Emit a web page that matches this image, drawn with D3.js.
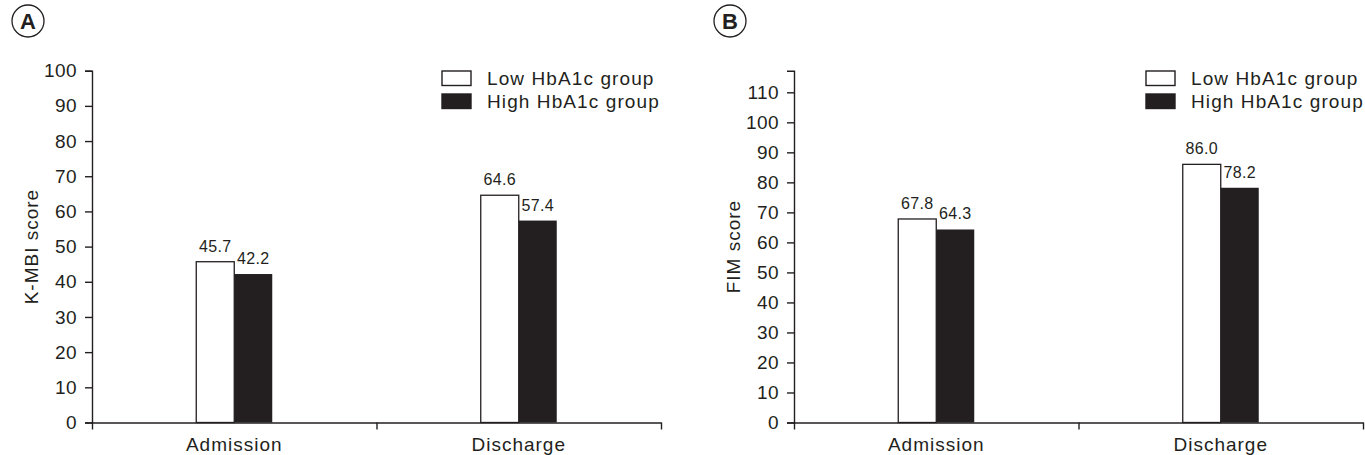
<!DOCTYPE html>
<html>
<head>
<meta charset="utf-8">
<script src="https://cdn.jsdelivr.net/npm/d3@7"></script>
<style>
  body { margin: 0; background: #fff; }
  svg text { font-family: "Liberation Sans", Arial, Helvetica, sans-serif; fill: #231f20; }
</style>
</head>
<body>
<div id="chart"></div>
<script>
const categories = ["Admission", "Discharge"];
const groups = ["Low HbA1c group", "High HbA1c group"];

// panel A: K-MBI
const kmbiLow = [45.7, 64.6];
const kmbiHigh = [42.2, 57.4];
const kmbiTicks = [0, 10, 20, 30, 40, 50, 60, 70, 80, 90, 100];

// panel B: FIM
const fimLow = [67.8, 86.0];
const fimHigh = [64.3, 78.2];
const fimTicks = [0, 10, 20, 30, 40, 50, 60, 70, 80, 90, 100, 110];

const ink = "#231f20";
const barW = 38;

const svg = d3.select("#chart")
  .append("svg")
  .attr("width", 1365)
  .attr("height", 455);

function panel(opt) {
  const g = svg.append("g");

  const y = d3.scaleLinear().domain([0, opt.yMax]).range([422.5, 70.7]);
  const x = d3.scaleBand().domain(categories).range([opt.x0, opt.x1]);
  const xEdge = d3.scaleLinear().domain([0, categories.length]).range([opt.x0, opt.x1]);

  // y axis
  const ya = g.append("g")
    .attr("transform", "translate(" + opt.x0 + ",0)")
    .call(d3.axisLeft(y).tickValues(opt.ticks).tickSize(7).tickSizeOuter(7).tickPadding(8));
  ya.selectAll("path, line").attr("stroke", ink).attr("stroke-width", 1.4);
  ya.selectAll("text")
    .attr("font-size", 19)
    .attr("letter-spacing", "0.4px")
    .attr("fill", ink)
    .style("font-family", "'Liberation Sans', Arial, sans-serif");

  // bars
  const rows = categories.map((c, i) => ({ cat: c, low: opt.low[i], high: opt.high[i] }));

  g.selectAll(".low")
    .data(rows)
    .enter().append("rect")
    .attr("class", "low")
    .attr("x", d => x(d.cat) + x.bandwidth() / 2 - barW)
    .attr("y", d => y(d.low))
    .attr("width", barW)
    .attr("height", d => y(0) - y(d.low))
    .attr("fill", "#fff")
    .attr("stroke", ink)
    .attr("stroke-width", 1.3);

  g.selectAll(".high")
    .data(rows)
    .enter().append("rect")
    .attr("class", "high")
    .attr("x", d => x(d.cat) + x.bandwidth() / 2)
    .attr("y", d => y(d.high))
    .attr("width", barW)
    .attr("height", d => y(0) - y(d.high))
    .attr("fill", ink);

  // value labels
  g.selectAll(".lowLabel")
    .data(rows)
    .enter().append("text")
    .attr("x", d => x(d.cat) + x.bandwidth() / 2 - barW / 2)
    .attr("y", d => y(d.low) - 10)
    .attr("text-anchor", "middle")
    .attr("font-size", 16)
    .attr("letter-spacing", "0.3px")
    .text(d => d.low.toFixed(1));

  g.selectAll(".highLabel")
    .data(rows)
    .enter().append("text")
    .attr("x", d => x(d.cat) + x.bandwidth() / 2 + barW / 2)
    .attr("y", d => y(d.high) - 10)
    .attr("text-anchor", "middle")
    .attr("font-size", 16)
    .attr("letter-spacing", "0.3px")
    .text(d => d.high.toFixed(1));

  // x axis, ticks on the category boundaries
  const xa = g.append("g")
    .attr("transform", "translate(0," + y(0) + ")")
    .call(d3.axisBottom(xEdge).tickValues(d3.range(categories.length + 1)).tickFormat("").tickSize(7).tickSizeOuter(0));
  xa.selectAll("path, line").attr("stroke", ink).attr("stroke-width", 1.4);

  g.selectAll(".catLabel")
    .data(categories)
    .enter().append("text")
    .attr("x", d => x(d) + x.bandwidth() / 2)
    .attr("y", 451)
    .attr("text-anchor", "middle")
    .attr("font-size", 19)
    .attr("letter-spacing", "1px")
    .text(d => d);

  // y title
  g.append("text")
    .attr("transform", "translate(" + (opt.x0 - 54) + "," + ((y(0) + 70.7) / 2) + ") rotate(-90)")
    .attr("text-anchor", "middle")
    .attr("font-size", 19)
    .attr("letter-spacing", "1px")
    .text(opt.title);

  // panel letter
  g.append("circle")
    .attr("cx", opt.x0 - 64)
    .attr("cy", 21)
    .attr("r", 16)
    .attr("fill", "none")
    .attr("stroke", ink)
    .attr("stroke-width", 1.3);
  g.append("text")
    .attr("x", opt.x0 - 64)
    .attr("y", 29)
    .attr("text-anchor", "middle")
    .attr("font-size", 22)
    .attr("font-weight", "bold")
    .text(opt.letter);

  // legend
  const lg = g.append("g").attr("transform", "translate(" + opt.legX + ",71)");
  lg.selectAll("rect")
    .data(groups)
    .enter().append("rect")
    .attr("x", 0)
    .attr("y", (d, i) => i * 23)
    .attr("width", 29)
    .attr("height", 14.5)
    .attr("fill", (d, i) => i == 0 ? "#fff" : ink)
    .attr("stroke", ink)
    .attr("stroke-width", 1.4);
  lg.selectAll("text")
    .data(groups)
    .enter().append("text")
    .attr("x", 45)
    .attr("y", (d, i) => 14 + i * 23)
    .attr("font-size", 19)
    .attr("letter-spacing", "1.1px")
    .text(d => d);
}

panel({ x0: 92, x1: 661, yMax: 100, ticks: kmbiTicks, low: kmbiLow, high: kmbiHigh,
        title: "K-MBI score", letter: "A", legX: 442 });
panel({ x0: 794, x1: 1363, yMax: 117.2, ticks: fimTicks, low: fimLow, high: fimHigh,
        title: "FIM score", letter: "B", legX: 1146 });
</script>
</body>
</html>
